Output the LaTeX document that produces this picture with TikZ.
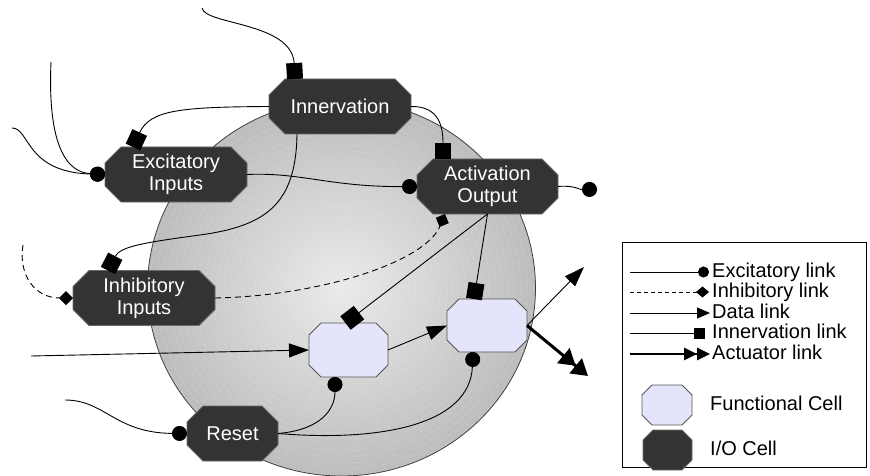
\documentclass[tikz,border=0pt]{standalone}
\usepackage{fontspec}
\setmainfont{Liberation Sans}
\usetikzlibrary{arrows.meta,calc}
\definecolor{iofill}{HTML}{333333}
\definecolor{iodraw}{HTML}{6A6A6A}
\definecolor{fcfill}{HTML}{E4E4FA}
\definecolor{fcdraw}{HTML}{555555}
% #1 style, #2 name, #3 cx, #4 cy, #5 width, #6 height, #7 cut, #8 text
\newcommand\octcell[8]{%
  \pgfmathsetmacro\ochw{#5/2}\pgfmathsetmacro\ochh{#6/2}%
  \draw[#1] ({#3-\ochw+#7},{#4-\ochh}) -- ({#3+\ochw-#7},{#4-\ochh}) -- ({#3+\ochw},{#4-\ochh+#7}) -- ({#3+\ochw},{#4+\ochh-#7}) -- ({#3+\ochw-#7},{#4+\ochh}) -- ({#3-\ochw+#7},{#4+\ochh}) -- ({#3-\ochw},{#4+\ochh-#7}) -- ({#3-\ochw},{#4-\ochh+#7}) -- cycle;%
  \node[celltext, minimum width=#5, minimum height=#6] (#2) at (#3,#4) {#8};%
}
\begin{document}
\begin{tikzpicture}[x=1pt,y=-1pt,
  font=\fontsize{20}{22}\selectfont,
  iocell/.style={fill=iofill, draw=iodraw, line width=0.9pt, line join=miter},
  fccell/.style={fill=fcfill, draw=fcdraw, line width=0.9pt},
  celltext/.style={inner sep=0pt, outer sep=0pt, text=white, align=center},
  link/.style={line width=0.9pt, draw=black},
  exc/.style={link, -{Circle[length=15pt,width=15pt]}},
  inh/.style={link, dash pattern=on 6pt off 4pt, -{Turned Square[length=14pt,width=14pt]}},
  diam/.style={link, -{Square[length=17pt,width=17pt]}},
  innv/.style={link, -{Square[length=16pt,width=16pt]}},
  datal/.style={link, -{Triangle[length=20pt,width=14pt]}},
  actl/.style={line width=3pt, draw=black, -{Triangle[length=16pt,width=19pt]Triangle[length=16pt,width=19pt]}},
  ring/.style={draw=white, opacity=0.22, line width=0.4pt, dash pattern=on 7pt off 3pt},
  legtext/.style={anchor=west, inner sep=0pt, text height=15pt, text depth=4.5pt},
  legexc/.style={link, -{Circle[length=11pt,width=11pt]}},
  leginh/.style={link, dash pattern=on 4pt off 3pt, -{Turned Square[length=13pt,width=11pt]}},
  legdata/.style={link, -{Triangle[length=13pt,width=11pt]}},
  leginnv/.style={link, -{Square[length=11pt,width=11pt]}},
  legact/.style={line width=2.8pt, draw=black, -{Triangle[length=13pt,width=12pt]Triangle[length=13pt,width=12pt]}}
]
\useasboundingbox (0,0) rectangle (870,476);

% sphere
\shadedraw[inner color=black!8, outer color=black!26, draw=black!75, line width=0.8pt]
  (341.5,288) ellipse [x radius=194, y radius=188];
\foreach \r in {6,12,...,186} {
  \path[ring] (341.5,289) ellipse [x radius={\r*1.03}, y radius=\r];
}

% cells
\octcell{iocell}{inn}{340}{106.5}{142}{55}{16}{Innervation}
\octcell{iocell}{ei}{176}{174.5}{142}{55}{16}{Excitatory\\Inputs}
\octcell{iocell}{ao}{487.5}{186.5}{141}{55}{16}{Activation\\Output}
\octcell{iocell}{ih}{144}{298}{142}{55}{16}{Inhibitory\\Inputs}
\octcell{iocell}{rs}{232.5}{433.5}{91}{55}{16}{Reset}
\octcell{fccell}{f1}{348.5}{350}{79}{54}{12}{}
\octcell{fccell}{f2}{487}{325.5}{80}{53}{12}{}

% free ends
\coordinate (c1) at (202,8);
\coordinate (c2) at (51,62);
\coordinate (c3) at (12,128);
\coordinate (c4) at (23,245);
\coordinate (c5) at (31,356);
\coordinate (c6) at (65,400);
\coordinate (c7) at (597,189);
\coordinate (c8) at (584,267);
\coordinate (c9) at (588,376);

% innervation links
\draw[innv] (c1) .. controls (205,25) and (292,22) .. ($(inn.north)+(-45,0)$);
\draw[innv] (inn.west) .. controls (180,107) and (150,110) .. ($(ei.north)+(-43,0)$);
\draw[innv] ($(inn.south)+(-43,0)$) .. controls (296,205) and (265,226) .. (200,235)
   .. controls (140,243) and (120,247) .. ($(ih.north)+(-36,0)$);
\draw[innv] (inn.east) .. controls (440,106) and (443,128) .. ($(ao.north)+(-44.5,0)$);
\draw[innv] (ao.south) -- ($(f2.north)+(-13,0)$);

% excitatory links
\draw[exc] (c2) .. controls (48,130) and (60,172) .. (ei.west);
\draw[exc] (c3) .. controls (30,128) and (25,172) .. (ei.west);
\draw[exc] (ei.east) .. controls (300,172) and (330,187) .. (ao.west);
\draw[exc] (ao.east) .. controls (575,185) and (580,190) .. (c7);
\draw[exc] (c6) .. controls (105,400) and (115,433) .. (rs.west);
\draw[exc] (rs.east) .. controls (320,430) and (335,410) .. ($(f1.south)+(-13.5,0)$);
\draw[exc] (rs.east) .. controls (380,442) and (470,425) .. ($(f2.south)+(-14,0)$);

% inhibitory links
\draw[inh] (c4) .. controls (18,275) and (35,298) .. (ih.west);
\draw[inh] (ih.east) .. controls (320,296) and (425,262) .. ($(ao.south)+(-42.5,0)$);
\draw[diam] (ao.south) -- ($(f1.north)+(-3,0)$);

% data links
\draw[datal] (c5) -- (f1.west);
\draw[datal] (f1.east) -- (f2.west);
\draw[datal] (f2.east) -- (c8);

% actuator link
\draw[actl] (f2.east) -- (c9);

% legend
\node[draw=black, line width=1pt, minimum width=244, minimum height=225, anchor=north west, inner sep=0pt] (legend) at (622,242) {};
\node[legtext] (t1) at (712,272) {Excitatory link};
\node[legtext] (t2) at (712,292) {Inhibitory link};
\node[legtext] (t3) at (712,313) {Data link};
\node[legtext] (t4) at (712,333) {Innervation link};
\node[legtext] (t5) at (712,354) {Actuator link};
\coordinate (la1) at (630,272); \coordinate (lb1) at (709,272);
\coordinate (la2) at (630,292); \coordinate (lb2) at (709,292);
\coordinate (la3) at (630,313); \coordinate (lb3) at (710,313);
\coordinate (la4) at (630,333); \coordinate (lb4) at (705,333);
\coordinate (la5) at (630,354); \coordinate (lb5) at (710,354);
\draw[legexc] (la1) -- (lb1);
\draw[leginh] (la2) -- (lb2);
\draw[legdata] (la3) -- (lb3);
\draw[leginnv] (la4) -- (lb4);
\draw[legact] (la5) -- (lb5);
\octcell{fccell}{lfc}{667}{405}{50}{40}{10}{}
\octcell{iocell}{lio}{667.5}{450}{49}{40}{10}{}
\node[legtext] (t6) at (710,405) {Functional Cell};
\node[legtext] (t7) at (710,450) {I/O Cell};
\end{tikzpicture}
\end{document}
